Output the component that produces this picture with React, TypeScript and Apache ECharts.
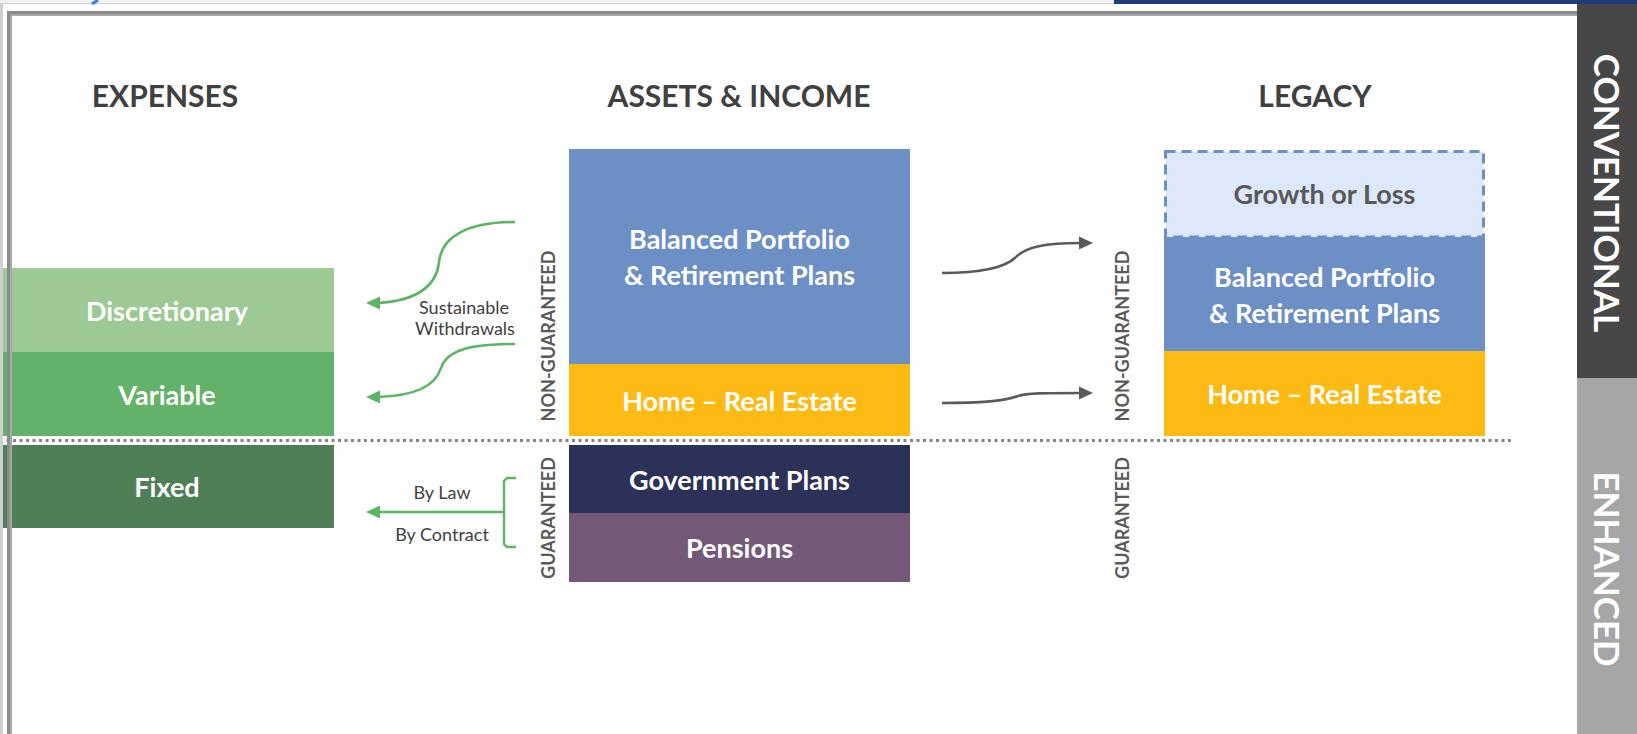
import React, { useEffect, useRef } from "react";
import * as echarts from "echarts";

// ---------- data ----------
const columns = ["EXPENSES", "ASSETS & INCOME", "LEGACY"];

// Block heights measured away from the guarantee line:
// positive = non-guaranteed (stacked upward), negative = guaranteed (stacked downward)
const expenseLabels = ["Variable", "Discretionary", "Fixed"];
const expenseValues = [8.4, 8.4, -8.3];

const assetLabels = ["Home – Real Estate", "Balanced Portfolio\n& Retirement Plans", "Government Plans", "Pensions"];
const assetValues = [7.2, 21.5, -6.8, -6.9];

const legacyLabels = ["Home – Real Estate", "Balanced Portfolio\n& Retirement Plans", "Growth or Loss"];
const legacyValues = [8.5, 11.4, 8.7];

const zoneLabels = ["NON-GUARANTEED", "GUARANTEED"];
const sideTabs = ["CONVENTIONAL", "ENHANCED"];
const withdrawalNote = ["Sustainable", "Withdrawals"];
const guaranteeNote = ["By Law", "By Contract"];

// ---------- layout & style ----------
const W = 1637;
const H = 734;
const Y_MIN = -29.4;
const Y_MAX = 44;
const GAP_UP = 0.4;
const GAP_DOWN = 0.5;
const colX: number[][] = [
  [0, 334],
  [569, 910],
  [1164, 1485],
];
const headerX = [165, 739, 1315];
const FONT = "Lato, 'Open Sans', sans-serif";

const blockStyle: Record<string, { fill: string; text: string; stroke?: string; dash?: number[] }> = {
  Discretionary: { fill: "#9dca94", text: "#ffffff" },
  Variable: { fill: "#63b26a", text: "#ffffff" },
  Fixed: { fill: "#4f7f56", text: "#ffffff" },
  "Balanced Portfolio\n& Retirement Plans": { fill: "#6c90c6", text: "#ffffff" },
  "Home – Real Estate": { fill: "#fdba13", text: "#ffffff" },
  "Government Plans": { fill: "#2b3158", text: "#ffffff" },
  Pensions: { fill: "#735877", text: "#ffffff" },
  "Growth or Loss": { fill: "#dde9f8", text: "#595959", stroke: "#6c90c6", dash: [10, 6] },
};

type Block = { col: number; start: number; end: number; label: string };

function stack(col: number, labels: string[], values: number[]): Block[] {
  let up = GAP_UP;
  let down = -GAP_DOWN;
  return labels.map((label, i) => {
    const v = values[i];
    if (v >= 0) {
      const s = up;
      up += v;
      return { col, start: s, end: up, label };
    }
    const s = down;
    down += v;
    return { col, start: s, end: down, label };
  });
}

const blocks: Block[] = [
  ...stack(0, expenseLabels, expenseValues),
  ...stack(1, assetLabels, assetValues),
  ...stack(2, legacyLabels, legacyValues),
];

const GREEN = "#5cb467";
const GREY_ARROW = "#5a5a5a";

function curve(stroke: string, pts: number[]) {
  const [x1, y1, cpx1, cpy1, cpx2, cpy2, x2, y2] = pts;
  return {
    type: "bezierCurve",
    shape: { x1, y1, cpx1, cpy1, cpx2, cpy2, x2, y2 },
    style: { stroke, lineWidth: 2.6, fill: null },
    z: 10,
  };
}
function head(fill: string, tipX: number, tipY: number, dir: number) {
  const len = 14;
  const half = 6.5;
  return {
    type: "polygon",
    shape: {
      points: [
        [tipX, tipY],
        [tipX - dir * len, tipY - half],
        [tipX - dir * len, tipY + half],
      ],
    },
    style: { fill },
    z: 10,
  };
}

export default function App() {
  const ref = useRef<HTMLDivElement>(null);

  useEffect(() => {
    if (!ref.current) return;
    const chart = echarts.init(ref.current, undefined, { renderer: "svg" });

    const graphics: any[] = [];

    // top window strip & frame
    graphics.push(
      { type: "rect", shape: { x: 0, y: 0, width: W, height: 4 }, style: { fill: "#f2f2f2" }, z: 50 },
      { type: "line", shape: { x1: 0, y1: 4, x2: 1114, y2: 4 }, style: { stroke: "#c4c4c4", lineWidth: 1.5 }, z: 50 },
      { type: "rect", shape: { x: 1114, y: 0, width: W - 1114, height: 4 }, style: { fill: "#1f3b7a" }, z: 51 },
      { type: "line", shape: { x1: 92, y1: 4, x2: 98, y2: 0 }, style: { stroke: "#3b7fe6", lineWidth: 3 }, z: 51 },
      { type: "rect", shape: { x: 0, y: 4, width: 1577, height: 7 }, style: { fill: "#ffffff" }, z: 50 },
      { type: "rect", shape: { x: 7, y: 11, width: 1570, height: 3 }, style: { fill: "#8a8a8a" }, z: 52 },
      { type: "rect", shape: { x: 7, y: 14, width: 1570, height: 2 }, style: { fill: "#a8a8a8" }, z: 52 },
      { type: "rect", shape: { x: 0, y: 4, width: 3, height: H }, style: { fill: "#cfcfcf" }, z: 52 },
      { type: "rect", shape: { x: 7, y: 11, width: 3, height: H }, style: { fill: "#8a8a8a" }, z: 52 },
      { type: "rect", shape: { x: 10, y: 14, width: 2, height: H }, style: { fill: "#a8a8a8" }, z: 52 }
    );

    // side tabs
    const tabFills = ["#474747", "#a6a6a6"];
    const tabY = [
      [4, 378],
      [378, H],
    ];
    const tabTextY = [193, 569];
    sideTabs.forEach((t, i) => {
      graphics.push({
        type: "rect",
        shape: { x: 1577, y: tabY[i][0], width: W - 1577, height: tabY[i][1] - tabY[i][0] },
        style: { fill: tabFills[i] },
        z: 53,
      });
      graphics.push({
        type: "text",
        x: 1608,
        y: tabTextY[i],
        rotation: -Math.PI / 2,
        style: {
          text: t,
          fill: "#ffffff",
          font: `bold 35px ${FONT}`,
          align: "center",
          verticalAlign: "middle",
        },
        z: 54,
      });
    });

    // headers
    columns.forEach((c, i) => {
      graphics.push({
        type: "text",
        x: headerX[i],
        y: 95,
        style: { text: c, fill: "#404040", font: `bold 30px ${FONT}`, align: "center", verticalAlign: "middle" },
        z: 10,
      });
    });

    // zone labels (vertical)
    const zoneX = [548, 1122];
    const zoneY = [336, 518];
    zoneX.forEach((zx) => {
      zoneLabels.forEach((z, j) => {
        graphics.push({
          type: "text",
          x: zx,
          y: zoneY[j],
          rotation: Math.PI / 2,
          style: { text: z, fill: "#595959", font: `bold 18px ${FONT}`, align: "center", verticalAlign: "middle" },
          z: 10,
        });
      });
    });

    // notes
    const noteStyle = (text: string, x: number, y: number) => ({
      type: "text",
      x,
      y,
      style: { text, fill: "#3f3f3f", font: `18px ${FONT}`, align: "center", verticalAlign: "middle" },
      z: 10,
    });
    graphics.push(noteStyle(withdrawalNote[0], 464, 307), noteStyle(withdrawalNote[1], 465, 328));
    graphics.push(noteStyle(guaranteeNote[0], 442, 492), noteStyle(guaranteeNote[1], 442, 534));

    // green withdrawal arrows
    graphics.push(
      curve(GREEN, [515, 222, 470, 222, 442, 235, 439, 262]),
      curve(GREEN, [439, 262, 436, 290, 410, 301, 378, 303]),
      head(GREEN, 366, 303, -1),
      curve(GREEN, [515, 344, 470, 344, 447, 350, 441, 368]),
      curve(GREEN, [441, 368, 435, 388, 410, 396, 378, 397]),
      head(GREEN, 366, 397, -1)
    );
    // bracket + arrow
    graphics.push(
      {
        type: "polyline",
        shape: {
          points: [
            [516, 478],
            [507, 478],
            [504, 481],
            [504, 544],
            [507, 547],
            [516, 547],
          ],
        },
        style: { stroke: GREEN, lineWidth: 2.4, fill: null },
        z: 10,
      },
      { type: "line", shape: { x1: 504, y1: 512, x2: 378, y2: 512 }, style: { stroke: GREEN, lineWidth: 2.6 }, z: 10 },
      head(GREEN, 366, 512, -1)
    );
    // grey legacy arrows
    graphics.push(
      curve(GREY_ARROW, [942, 273, 980, 273, 1005, 268, 1016, 257]),
      curve(GREY_ARROW, [1016, 257, 1026, 247, 1045, 243, 1081, 243]),
      head(GREY_ARROW, 1093, 243, 1),
      curve(GREY_ARROW, [942, 403, 990, 403, 1008, 400, 1018, 396]),
      curve(GREY_ARROW, [1018, 396, 1026, 393, 1045, 393, 1081, 393]),
      head(GREY_ARROW, 1093, 393, 1)
    );

    const option: any = {
      animation: false,
      backgroundColor: "#ffffff",
      grid: { left: 0, right: 0, top: 0, bottom: 0 },
      xAxis: { type: "value", min: 0, max: W, show: false },
      yAxis: { type: "value", min: Y_MIN, max: Y_MAX, show: false },
      graphic: { elements: graphics },
      series: [
        {
          type: "custom",
          coordinateSystem: "cartesian2d",
          silent: true,
          data: blocks.map((b) => ({ name: b.label, value: [b.col, b.start, b.end] })),
          renderItem: (params: any, api: any) => {
            const b = blocks[params.dataIndex];
            const [x0, x1] = colX[b.col];
            const p0 = api.coord([x0, b.start]);
            const p1 = api.coord([x1, b.end]);
            const x = p0[0];
            const w = p1[0] - p0[0];
            const y = Math.min(p0[1], p1[1]);
            const h = Math.abs(p1[1] - p0[1]);
            const st = blockStyle[b.label];
            const rectStyle: any = { fill: st.fill };
            if (st.stroke) {
              rectStyle.stroke = st.stroke;
              rectStyle.lineWidth = 3;
              rectStyle.lineDash = st.dash;
            }
            const inset = st.stroke ? 1.5 : 0;
            return {
              type: "group",
              children: [
                {
                  type: "rect",
                  shape: { x: x + inset, y: y + inset, width: w - inset * 2, height: h - inset },
                  style: rectStyle,
                },
                {
                  type: "text",
                  style: {
                    text: b.label,
                    x: x + w / 2,
                    y: y + h / 2,
                    fill: st.text,
                    font: `bold 27px ${FONT}`,
                    align: "center",
                    verticalAlign: "middle",
                    lineHeight: 36,
                  },
                },
              ],
            };
          },
          markLine: {
            silent: true,
            symbol: "none",
            label: { show: false },
            lineStyle: { color: "#858585", type: [3, 3.5], width: 3, cap: "butt" },
            data: [[{ coord: [0, 0] }, { coord: [1514, 0] }]],
          },
        },
      ],
    };
    chart.setOption(option);
    return () => chart.dispose();
  }, []);

  return <div ref={ref} style={{ position: "absolute", left: 0, top: 0, width: W, height: H }} />;
}
